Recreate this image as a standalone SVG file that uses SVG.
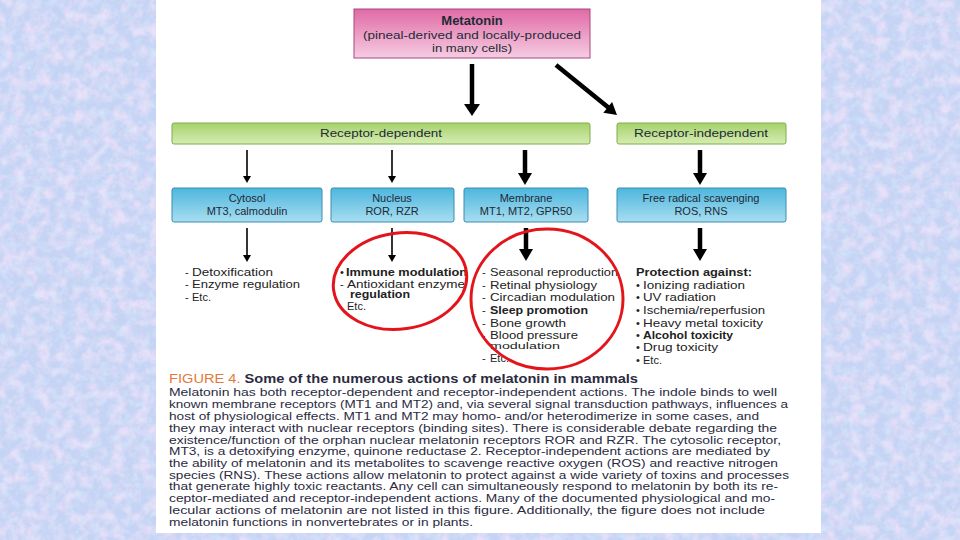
<svg xmlns="http://www.w3.org/2000/svg" width="960" height="540" viewBox="0 0 960 540">
<defs>
<linearGradient id="gPink" x1="0" y1="0" x2="0" y2="1"><stop offset="0" stop-color="#e06aa6"/><stop offset="1" stop-color="#f6cde2"/></linearGradient>
<linearGradient id="gGreen" x1="0" y1="0" x2="0" y2="1"><stop offset="0" stop-color="#a6d26a"/><stop offset="1" stop-color="#d6ecb4"/></linearGradient>
<linearGradient id="gBlue" x1="0" y1="0" x2="0" y2="1"><stop offset="0" stop-color="#4db6de"/><stop offset="1" stop-color="#a9def0"/></linearGradient>
<filter id="tex" x="0" y="0" width="100%" height="100%">
<feTurbulence type="fractalNoise" baseFrequency="0.08" numOctaves="4" seed="7"/>
<feColorMatrix type="matrix" values="0 0 0 0 0.88  0 0 0 0 0.76  0 0 0 0 0.95  0 0 0 2.4 -0.95"/>
</filter>
<filter id="tex2" x="0" y="0" width="100%" height="100%">
<feTurbulence type="fractalNoise" baseFrequency="0.12" numOctaves="3" seed="19"/>
<feColorMatrix type="matrix" values="0 0 0 0 0.70  0 0 0 0 0.84  0 0 0 0 0.98  0 0 0 2.2 -0.95"/>
</filter>
</defs>
<style>
.lbl{font-family:"Liberation Sans",Arial,sans-serif;font-size:11px;fill:#1e2a36;text-anchor:middle}
.li{font-family:"Liberation Sans",Arial,sans-serif;font-size:11px;fill:#222}
.b{font-weight:bold}
.cap{font-family:"Liberation Sans",Arial,sans-serif;font-size:10px;fill:#2b2b3f}
.thin{stroke:#000;stroke-width:1.6;fill:none}
.thick{stroke:#000;stroke-width:4.5;fill:none}
.ring{fill:none;stroke:#e3141b;stroke-width:3}
</style>
<rect width="960" height="540" fill="#c5d3f4"/>
<rect width="960" height="540" filter="url(#tex)" opacity="0.85"/>
<rect width="960" height="540" filter="url(#tex2)" opacity="0.6"/>
<rect x="156" y="0" width="665" height="533" fill="#ffffff"/>

<g id="metatonin">
<rect x="354" y="9" width="236" height="49" fill="url(#gPink)" stroke="#a8487e" stroke-width="1"/>
<text x="472" y="25" class="lbl b" style="font-size:13px">Metatonin</text>
<text x="472" y="39" class="lbl" textLength="218" lengthAdjust="spacingAndGlyphs">(pineal-derived and locally-produced</text>
<text x="472" y="52" class="lbl" textLength="80" lengthAdjust="spacingAndGlyphs">in many cells)</text>
</g>

<g id="receptor-dependent">
<rect x="172" y="123" width="418" height="21" rx="2" fill="url(#gGreen)" stroke="#7fae48" stroke-width="1"/>
<text x="381" y="137" class="lbl" textLength="122" lengthAdjust="spacingAndGlyphs">Receptor-dependent</text>
</g>
<g id="receptor-independent">
<rect x="617" y="123" width="169" height="21" rx="2" fill="url(#gGreen)" stroke="#7fae48" stroke-width="1"/>
<text x="701" y="137" class="lbl" textLength="134" lengthAdjust="spacingAndGlyphs">Receptor-independent</text>
</g>

<g id="cytosol">
<rect x="172" y="188" width="150" height="34" rx="2" fill="url(#gBlue)" stroke="#3a8db0" stroke-width="1"/>
<text x="247" y="202" class="lbl">Cytosol</text>
<text x="247" y="215" class="lbl">MT3, calmodulin</text>
</g>
<g id="nucleus">
<rect x="331" y="188" width="123" height="34" rx="2" fill="url(#gBlue)" stroke="#3a8db0" stroke-width="1"/>
<text x="392" y="202" class="lbl">Nucleus</text>
<text x="392" y="215" class="lbl">ROR, RZR</text>
</g>
<g id="membrane">
<rect x="464" y="188" width="124" height="34" rx="2" fill="url(#gBlue)" stroke="#3a8db0" stroke-width="1"/>
<text x="526" y="202" class="lbl">Membrane</text>
<text x="526" y="215" class="lbl">MT1, MT2, GPR50</text>
</g>
<g id="free-radical">
<rect x="617" y="188" width="169" height="34" rx="2" fill="url(#gBlue)" stroke="#3a8db0" stroke-width="1"/>
<text x="701" y="202" class="lbl">Free radical scavenging</text>
<text x="701" y="215" class="lbl">ROS, RNS</text>
</g>

<g id="connectors">
<line x1="472" y1="64" x2="472" y2="106" class="thick" stroke-width="5"/>
<polygon points="464,104 480,104 472,116"/>
<line x1="556" y1="65" x2="609" y2="108" class="thick" stroke-width="5"/>
<polygon points="603.3,112.8 612.1,102 617,115"/>
<line x1="247" y1="150" x2="247" y2="178" class="thin"/>
<polygon points="243,176 251,176 247,183"/>
<line x1="392" y1="150" x2="392" y2="178" class="thin"/>
<polygon points="388,176 396,176 392,183"/>
<line x1="525" y1="150" x2="525" y2="175" class="thick"/>
<polygon points="518,173 532,173 525,185"/>
<line x1="700" y1="150" x2="700" y2="175" class="thick"/>
<polygon points="693,173 707,173 700,185"/>
<line x1="247" y1="228" x2="247" y2="257" class="thin"/>
<polygon points="243,255 251,255 247,262"/>
<line x1="392" y1="228" x2="392" y2="257" class="thin"/>
<polygon points="388,255 396,255 392,262"/>
<line x1="526" y1="228" x2="526" y2="251" class="thick"/>
<polygon points="519,249 533,249 526,261"/>
<line x1="700" y1="228" x2="700" y2="251" class="thick"/>
<polygon points="693,249 707,249 700,261"/>
</g>

<g id="cytosol-actions">
<text x="185" y="276" class="li">-</text><text x="192" y="276" class="li" textLength="81" lengthAdjust="spacingAndGlyphs">Detoxification</text>
<text x="185" y="288" class="li">-</text><text x="192" y="288" class="li" textLength="108" lengthAdjust="spacingAndGlyphs">Enzyme regulation</text>
<text x="185" y="301" class="li">-</text><text x="192" y="301" class="li">Etc.</text>
</g>
<g id="nucleus-actions">
<text x="340" y="276" class="li">•</text><text x="346" y="276" class="li b" textLength="121" lengthAdjust="spacingAndGlyphs">Immune modulation</text>
<text x="340" y="288" class="li">-</text><text x="347" y="288" class="li" textLength="118" lengthAdjust="spacingAndGlyphs">Antioxidant enzyme</text>
<text x="350" y="298" class="li b" style="font-size:10px" textLength="60" lengthAdjust="spacingAndGlyphs">regulation</text>
<text x="347" y="310" class="li">Etc.</text>
</g>
<g id="membrane-actions">
<text x="482" y="276" class="li">-</text><text x="490" y="276" class="li" textLength="128" lengthAdjust="spacingAndGlyphs">Seasonal reproduction</text>
<text x="482" y="289" class="li">-</text><text x="490" y="289" class="li" textLength="107" lengthAdjust="spacingAndGlyphs">Retinal physiology</text>
<text x="482" y="301" class="li">-</text><text x="490" y="301" class="li" textLength="125" lengthAdjust="spacingAndGlyphs">Circadian modulation</text>
<text x="482" y="314" class="li">-</text><text x="490" y="314" class="li b" textLength="98" lengthAdjust="spacingAndGlyphs">Sleep promotion</text>
<text x="482" y="327" class="li">-</text><text x="490" y="327" class="li" textLength="76" lengthAdjust="spacingAndGlyphs">Bone growth</text>
<text x="482" y="338.5" class="li" style="font-size:10px">-</text><text x="490" y="338.5" class="li" style="font-size:10px" textLength="88" lengthAdjust="spacingAndGlyphs">Blood pressure</text>
<text x="490" y="349" class="li" style="font-size:9.5px" textLength="70" lengthAdjust="spacingAndGlyphs">modulation</text>
<text x="482" y="362" class="li">-</text><text x="490" y="362" class="li">Etc.</text>
</g>
<g id="free-radical-actions">
<text x="636" y="276" class="li b" textLength="116" lengthAdjust="spacingAndGlyphs">Protection against:</text>
<text x="636" y="289" class="li">•</text><text x="643" y="289" class="li" textLength="102" lengthAdjust="spacingAndGlyphs">Ionizing radiation</text>
<text x="636" y="301" class="li">•</text><text x="643" y="301" class="li" textLength="73" lengthAdjust="spacingAndGlyphs">UV radiation</text>
<text x="636" y="314" class="li">•</text><text x="643" y="314" class="li" textLength="122" lengthAdjust="spacingAndGlyphs">Ischemia/reperfusion</text>
<text x="636" y="327" class="li">•</text><text x="643" y="327" class="li" textLength="120" lengthAdjust="spacingAndGlyphs">Heavy metal toxicity</text>
<text x="636" y="339" class="li">•</text><text x="643" y="339" class="li b" textLength="90" lengthAdjust="spacingAndGlyphs">Alcohol toxicity</text>
<text x="636" y="351" class="li">•</text><text x="643" y="351" class="li" textLength="75" lengthAdjust="spacingAndGlyphs">Drug toxicity</text>
<text x="636" y="364" class="li">•</text><text x="643" y="364" class="li">Etc.</text>
</g>

<g id="highlights">
<ellipse cx="400" cy="281" rx="67" ry="48" class="ring" transform="rotate(-8 400 281)"/>
<ellipse cx="547" cy="299" rx="76" ry="70" class="ring"/>
</g>

<g id="caption">
<text x="169" y="383" style="font-family:'Liberation Sans',Arial,sans-serif;font-size:12.5px" textLength="469" lengthAdjust="spacingAndGlyphs"><tspan fill="#e4783a">FIGURE 4. </tspan><tspan fill="#2b2b3f" font-weight="bold">Some of the numerous actions of melatonin in mammals</tspan></text>
<text x="169" y="396" class="cap" textLength="608" lengthAdjust="spacingAndGlyphs">Melatonin has both receptor-dependent and receptor-independent actions. The indole binds to well</text>
<text x="169" y="408" class="cap" textLength="619" lengthAdjust="spacingAndGlyphs">known membrane receptors (MT1 and MT2) and, via several signal transduction pathways, influences a</text>
<text x="169" y="420" class="cap" textLength="590" lengthAdjust="spacingAndGlyphs">host of physiological effects. MT1 and MT2 may homo- and/or heterodimerize in some cases, and</text>
<text x="169" y="432" class="cap" textLength="608" lengthAdjust="spacingAndGlyphs">they may interact with nuclear receptors (binding sites). There is considerable debate regarding the</text>
<text x="169" y="443.5" class="cap" textLength="612" lengthAdjust="spacingAndGlyphs">existence/function of the orphan nuclear melatonin receptors ROR and RZR. The cytosolic receptor,</text>
<text x="169" y="455" class="cap" textLength="601" lengthAdjust="spacingAndGlyphs">MT3, is a detoxifying enzyme, quinone reductase 2. Receptor-independent actions are mediated by</text>
<text x="169" y="467" class="cap" textLength="609" lengthAdjust="spacingAndGlyphs">the ability of melatonin and its metabolites to scavenge reactive oxygen (ROS) and reactive nitrogen</text>
<text x="169" y="478.5" class="cap" textLength="620" lengthAdjust="spacingAndGlyphs">species (RNS). These actions allow melatonin to protect against a wide variety of toxins and processes</text>
<text x="169" y="490" class="cap" textLength="609" lengthAdjust="spacingAndGlyphs">that generate highly toxic reactants. Any cell can simultaneously respond to melatonin by both its re-</text>
<text x="169" y="502" class="cap" textLength="606" lengthAdjust="spacingAndGlyphs">ceptor-mediated and receptor-independent actions. Many of the documented physiological and mo-</text>
<text x="169" y="514" class="cap" textLength="596" lengthAdjust="spacingAndGlyphs">lecular actions of melatonin are not listed in this figure. Additionally, the figure does not include</text>
<text x="169" y="525.5" class="cap" textLength="304" lengthAdjust="spacingAndGlyphs">melatonin functions in nonvertebrates or in plants.</text>
</g>
</svg>
